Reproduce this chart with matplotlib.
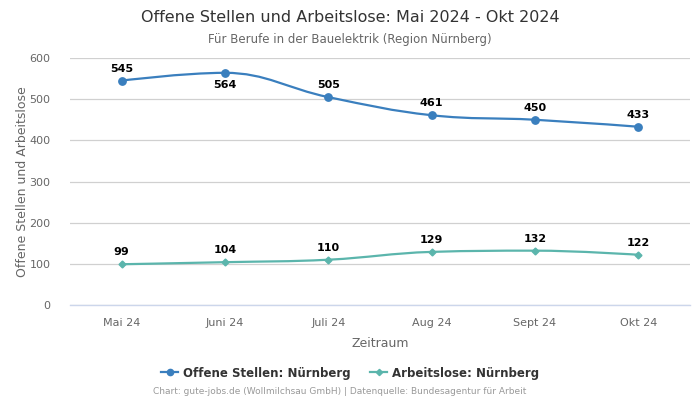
import numpy as np
import matplotlib
matplotlib.use("Agg")
import matplotlib.pyplot as plt
from matplotlib.path import Path
from matplotlib.patches import PathPatch
from matplotlib.lines import Line2D

categories = ["Mai 24", "Juni 24", "Juli 24", "Aug 24", "Sept 24", "Okt 24"]
offene_stellen = [545, 564, 505, 461, 450, 433]
arbeitslose = [99, 104, 110, 129, 132, 122]
y_ticks = [0, 100, 200, 300, 400, 500, 600]

BLUE = "#3a7fbe"
TEAL = "#5bb5ac"


def spline_path(xs, ys, smoothing=1.5):
    n = len(xs)
    left = [None] * n
    right = [None] * n
    denom = smoothing + 1
    for i in range(1, n - 1):
        lx, ly = xs[i - 1], ys[i - 1]
        px, py = xs[i], ys[i]
        nx, ny = xs[i + 1], ys[i + 1]
        lcx = (smoothing * px + lx) / denom
        lcy = (smoothing * py + ly) / denom
        rcx = (smoothing * px + nx) / denom
        rcy = (smoothing * py + ny) / denom
        corr = 0
        if rcx != lcx:
            corr = (rcy - lcy) * (rcx - px) / (rcx - lcx) + py - rcy
        lcy += corr
        rcy += corr
        if lcy > ly and lcy > py:
            lcy = max(ly, py); rcy = 2 * py - lcy
        elif lcy < ly and lcy < py:
            lcy = min(ly, py); rcy = 2 * py - lcy
        if rcy > ny and rcy > py:
            rcy = max(ny, py); lcy = 2 * py - rcy
        elif rcy < ny and rcy < py:
            rcy = min(ny, py); lcy = 2 * py - rcy
        left[i] = (lcx, lcy)
        right[i] = (rcx, rcy)
    verts = [(xs[0], ys[0])]
    codes = [Path.MOVETO]
    for i in range(1, n):
        p0 = (xs[i - 1], ys[i - 1])
        c1 = right[i - 1] if right[i - 1] is not None else p0
        p3 = (xs[i], ys[i])
        c2 = left[i] if left[i] is not None else p3
        verts += [c1, c2, p3]
        codes += [Path.CURVE4] * 3
    return Path(verts, codes)


fig = plt.figure(figsize=(7, 4), dpi=100)
ax = fig.add_axes([70 / 700, 95 / 400, 620 / 700, 247 / 400])

x = np.arange(len(categories))

for vals, color, marker, ms in [(offene_stellen, BLUE, "o", 5.3), (arbeitslose, TEAL, "D", 3.5)]:
    p = spline_path(list(x.astype(float)), [float(v) for v in vals])
    ax.add_patch(PathPatch(p, facecolor="none", edgecolor=color, lw=1.6, zorder=3))
    ax.plot(x, vals, linestyle="none", marker=marker, color=color, ms=ms, zorder=4)

label_offsets_blue = [1, -1, 1, 1, 1, 1]
for i, v in enumerate(offene_stellen):
    if label_offsets_blue[i] > 0:
        ax.annotate(str(v), (x[i], v), xytext=(0, 5), textcoords="offset points",
                    ha="center", va="bottom", fontsize=8, fontweight="bold", color="black", zorder=5)
    else:
        ax.annotate(str(v), (x[i], v), xytext=(0, -5), textcoords="offset points",
                    ha="center", va="top", fontsize=8, fontweight="bold", color="black", zorder=5)
for i, v in enumerate(arbeitslose):
    ax.annotate(str(v), (x[i], v), xytext=(0, 5), textcoords="offset points",
                ha="center", va="bottom", fontsize=8, fontweight="bold", color="black", zorder=5)

ax.set_xlim(-0.5, len(categories) - 0.5)
ax.set_ylim(0, 600)
ax.set_yticks(y_ticks)
ax.set_xticks(x)
ax.set_xticklabels(categories)
ax.tick_params(axis="both", length=0, labelsize=8, colors="#666666")
ax.tick_params(axis="x", pad=9)
ax.tick_params(axis="y", pad=14)
ax.grid(axis="y", color="#d0d0d0", lw=0.9)
ax.set_axisbelow(True)
for s in ["top", "right", "left"]:
    ax.spines[s].set_visible(False)
ax.spines["bottom"].set_color("#ccd6eb")
ax.spines["bottom"].set_linewidth(1)
ax.set_ylabel("Offene Stellen und Arbeitslose", fontsize=9, color="#666666", labelpad=0)
ax.set_xlabel("Zeitraum", fontsize=9, color="#666666", labelpad=7)

fig.text(0.5, 1 - 17 / 400, "Offene Stellen und Arbeitslose: Mai 2024 - Okt 2024",
         ha="center", va="center", fontsize=11.5, color="#333333")
fig.text(0.5, 1 - 39 / 400, "Für Berufe in der Bauelektrik (Region Nürnberg)",
         ha="center", va="center", fontsize=8.5, color="#666666")

handles = [
    Line2D([0], [0], color=BLUE, marker="o", ms=4.5, lw=1.6),
    Line2D([0], [0], color=TEAL, marker="D", ms=3.2, lw=1.6),
]
fig.legend(handles, ["Offene Stellen: Nürnberg", "Arbeitslose: Nürnberg"],
           loc="center", bbox_to_anchor=(0.5, 1 - 373 / 400), ncol=2, frameon=False,
           prop={"size": 8.5, "weight": "bold"}, labelcolor="#333333",
           handlelength=1.5, handletextpad=0.4, columnspacing=1.6)

fig.text(340 / 700, 1 - 392 / 400, "Chart: gute-jobs.de (Wollmilchsau GmbH) | Datenquelle: Bundesagentur für Arbeit",
         ha="center", va="center", fontsize=6.5, color="#999999")

fig.savefig("out.png", dpi=100)
